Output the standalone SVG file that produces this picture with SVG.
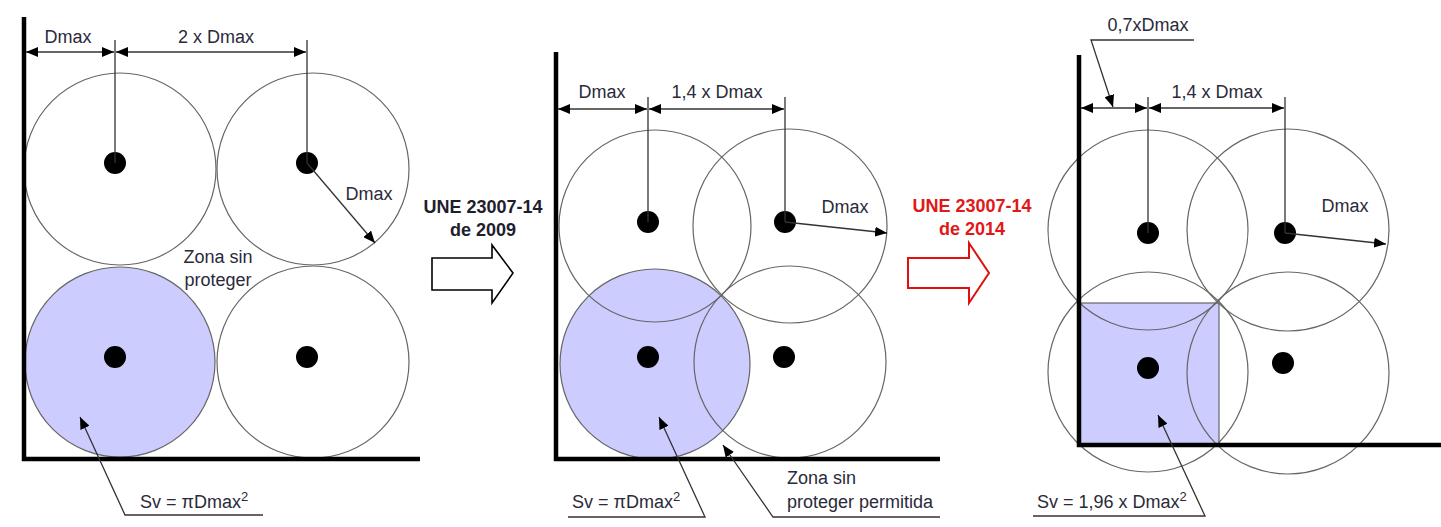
<svg xmlns="http://www.w3.org/2000/svg" width="1441" height="527" viewBox="0 0 1441 527">
<style>
.c{fill:none;stroke:#666;stroke-width:1.2}
.f{fill:#ccccff;stroke:#666;stroke-width:1.2}
.ax{stroke:#000;stroke-width:4.5;fill:none}
.d{fill:#000}
.ln{stroke:#333;stroke-width:1.3;fill:none}
.t{font-family:"Liberation Sans",Arial,sans-serif;font-size:18px;fill:#2a2a3a}
.s{font-size:13px}
.b{font-family:"Liberation Sans",Arial,sans-serif;font-size:18px;font-weight:bold;text-anchor:middle}
</style>
<defs>
<marker id="ah" viewBox="0 0 12 10" refX="12" refY="5" markerWidth="12" markerHeight="10" orient="auto-start-reverse" markerUnits="userSpaceOnUse"><path d="M0,0 L12,5 L0,10 z" fill="#000"/></marker>
</defs>
<rect width="1441" height="527" fill="#fff"/>

<g id="panel1">
<circle class="f" cx="120" cy="362" r="95"/>
<circle class="c" cx="120" cy="169" r="96"/>
<circle class="c" cx="313" cy="169" r="96"/>
<circle class="c" cx="313" cy="362" r="96"/>
<path class="ax" d="M24,17 V459 H420"/>
<circle class="d" cx="115" cy="163" r="11"/>
<circle class="d" cx="307" cy="163" r="11"/>
<circle class="d" cx="115" cy="357" r="11"/>
<circle class="d" cx="307" cy="357" r="11"/>
<text class="t" x="68" y="43" text-anchor="middle">Dmax</text>
<text class="t" x="216" y="43" text-anchor="middle">2 x Dmax</text>
<text class="t" x="369" y="200" text-anchor="middle">Dmax</text>
<text class="t" x="218" y="263" text-anchor="middle">Zona sin</text>
<text class="t" x="218" y="286" text-anchor="middle">proteger</text>
<text class="t" x="140" y="508">Sv = πDmax<tspan class="s" dy="-7">2</tspan></text>
</g>

<g id="arrow2009">
<polygon points="432,258 492,258 492,245 513,273 492,303 492,290 432,290" fill="#fff" stroke="#000" stroke-width="1.6"/>
<text class="b" x="483" y="213" fill="#1e1e2e">UNE 23007-14</text>
<text class="b" x="483" y="236" fill="#1e1e2e">de 2009</text>
</g>

<g id="panel2">
<circle class="f" cx="655" cy="364" r="95"/>
<circle class="c" cx="655" cy="226" r="96"/>
<circle class="c" cx="790" cy="226" r="97"/>
<circle class="c" cx="790" cy="362" r="96"/>
<path class="ax" d="M556,52 V459 H940"/>
<circle class="d" cx="648" cy="222" r="11"/>
<circle class="d" cx="785" cy="222" r="11"/>
<circle class="d" cx="648" cy="357" r="11"/>
<circle class="d" cx="784" cy="357" r="11"/>
<text class="t" x="602" y="98" text-anchor="middle">Dmax</text>
<text class="t" x="717" y="98" text-anchor="middle">1,4 x Dmax</text>
<text class="t" x="845" y="213" text-anchor="middle">Dmax</text>
<text class="t" x="572" y="508">Sv = πDmax<tspan class="s" dy="-7">2</tspan></text>
<text class="t" x="787" y="484">Zona sin</text>
<text class="t" x="787" y="508">proteger permitida</text>
</g>

<g id="arrow2014">
<polygon points="908,258 969,258 969,243 989,273 969,303 969,288 908,288" fill="#fff" stroke="#e01010" stroke-width="2"/>
<text class="b" x="972" y="212" fill="#e01818">UNE 23007-14</text>
<text class="b" x="972" y="235" fill="#e01818">de 2014</text>
</g>

<g id="panel3">
<rect x="1079" y="303" width="140" height="142" fill="#ccccff" stroke="#666" stroke-width="1.2"/>
<circle class="c" cx="1148" cy="230" r="100"/>
<circle class="c" cx="1288" cy="230" r="101"/>
<circle class="c" cx="1148" cy="372" r="100"/>
<circle class="c" cx="1288" cy="373" r="101"/>
<path class="ax" d="M1079,55 V445 H1441"/>
<circle class="d" cx="1148" cy="233" r="11"/>
<circle class="d" cx="1285" cy="233" r="11"/>
<circle class="d" cx="1148" cy="368" r="11"/>
<circle class="d" cx="1283" cy="363" r="11"/>
<text class="t" x="1148" y="31" text-anchor="middle">0,7xDmax</text>
<text class="t" x="1217" y="98" text-anchor="middle">1,4 x Dmax</text>
<text class="t" x="1345" y="212" text-anchor="middle">Dmax</text>
<text class="t" x="1037" y="508">Sv = 1,96 x Dmax<tspan class="s" dy="-7">2</tspan></text>
</g>

<g id="connectors">
<line class="ln" x1="115" y1="40" x2="115" y2="163"/>
<line class="ln" x1="307" y1="40" x2="307" y2="163"/>
<line class="ln" x1="26" y1="52" x2="114" y2="52" marker-start="url(#ah)" marker-end="url(#ah)"/>
<line class="ln" x1="116" y1="52" x2="306" y2="52" marker-start="url(#ah)" marker-end="url(#ah)"/>
<line class="ln" x1="307" y1="163" x2="375" y2="243" marker-end="url(#ah)"/>
<polyline class="ln" points="263,515 125,515 80,417" marker-end="url(#ah)"/>
<line class="ln" x1="648" y1="97" x2="648" y2="222"/>
<line class="ln" x1="785" y1="97" x2="785" y2="222"/>
<line class="ln" x1="558" y1="109" x2="647" y2="109" marker-start="url(#ah)" marker-end="url(#ah)"/>
<line class="ln" x1="649" y1="109" x2="784" y2="109" marker-start="url(#ah)" marker-end="url(#ah)"/>
<line class="ln" x1="785" y1="222" x2="887" y2="233" marker-end="url(#ah)"/>
<polyline class="ln" points="568,517 705,517 659,417" marker-end="url(#ah)"/>
<polyline class="ln" points="940,517 773,517 723,445" marker-end="url(#ah)"/>
<line class="ln" x1="1148" y1="97" x2="1148" y2="233"/>
<line class="ln" x1="1285" y1="97" x2="1285" y2="233"/>
<line class="ln" x1="1081" y1="108" x2="1147" y2="108" marker-start="url(#ah)" marker-end="url(#ah)"/>
<line class="ln" x1="1149" y1="108" x2="1284" y2="108" marker-start="url(#ah)" marker-end="url(#ah)"/>
<polyline class="ln" points="1194,40 1091,40 1113,107" marker-end="url(#ah)"/>
<line class="ln" x1="1285" y1="233" x2="1386" y2="244" marker-end="url(#ah)"/>
<polyline class="ln" points="1033,516 1205,516 1158,415" marker-end="url(#ah)"/>
</g>
</svg>
